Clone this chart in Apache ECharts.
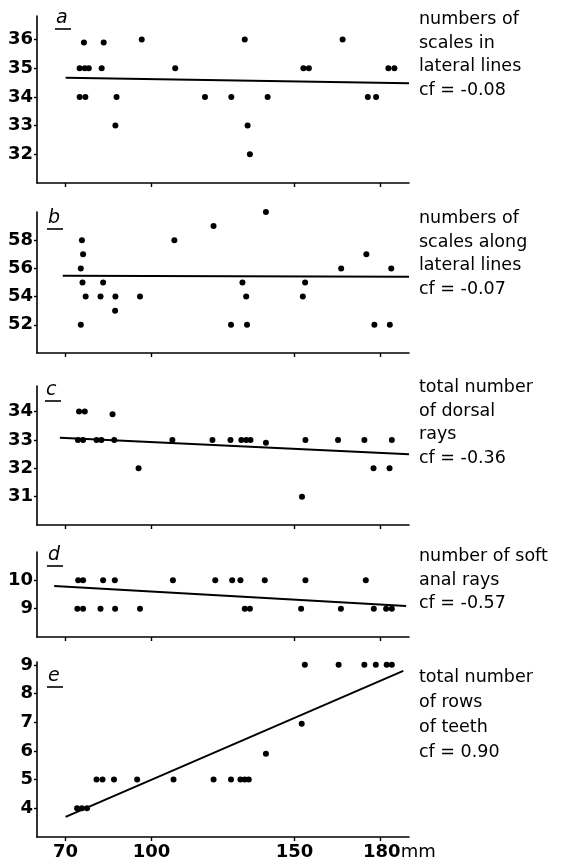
<!DOCTYPE html>
<html>
<head>
<meta charset="utf-8">
<script src="https://cdn.jsdelivr.net/npm/echarts@6/dist/echarts.min.js"></script>
<style>
html, body { margin: 0; padding: 0; background: #fff; }
#main { width: 562px; height: 864px; }
</style>
</head>
<body>
<div id="main"></div>
<script>
// body length in mm (x) against meristic counts, five panels a-e
var xTicks = [70, 100, 150, 180];

var aX = [76.4, 74.9, 76.7, 78.1, 74.9, 76.9, 83.3, 82.6, 87.8, 87.4, 96.6, 108.3, 118.7, 127.9, 132.6, 133.6, 134.4, 140.6, 153.1, 155.0, 166.8, 175.6, 178.5, 182.8, 184.9];
var aY = [35.9, 35, 35, 35, 34, 34, 35.9, 35, 34, 33, 36, 35, 34, 34, 36, 33, 32, 34, 35, 35, 36, 34, 34, 35, 35];
var aLineX = [70, 190];
var aLineY = [34.67, 34.48];

var bX = [75.7, 76.1, 75.3, 75.9, 77.0, 75.3, 83.1, 82.2, 87.4, 87.3, 96.0, 108.0, 121.7, 127.8, 131.8, 133.1, 133.4, 140.0, 153.7, 152.9, 166.3, 175.1, 183.8, 177.9, 183.3];
var bY = [58, 57, 56, 55, 54, 52, 55, 54, 54, 53, 54, 58, 59, 52, 55, 54, 52, 60, 55, 54, 56, 57, 56, 52, 52];
var bLineX = [69, 190];
var bLineY = [55.47, 55.4];

var cX = [74.7, 76.7, 74.3, 76.1, 80.8, 82.5, 86.4, 87.0, 95.5, 107.3, 121.3, 127.6, 131.4, 133.1, 134.6, 140.0, 153.8, 165.2, 174.4, 184.0, 177.6, 183.2, 152.6];
var cY = [34, 34, 33, 33, 33, 33, 33.9, 33, 32, 33, 33, 33, 33, 33, 33, 32.9, 33, 33, 33, 33, 32, 32, 31];
var cLineX = [68, 190];
var cLineY = [33.08, 32.49];

var dX = [74.4, 76.1, 83.1, 87.2, 107.5, 122.3, 128.2, 131.1, 139.6, 153.8, 174.9, 74.1, 76.1, 82.2, 87.3, 96.0, 132.6, 134.4, 152.3, 166.2, 177.7, 182.0, 184.0];
var dY = [10, 10, 10, 10, 10, 10, 10, 10, 10, 10, 10, 9, 9, 9, 9, 9, 9, 9, 9, 9, 9, 9, 9];
var dLineX = [66, 189];
var dLineY = [9.8, 9.09];

var eX = [74.0, 75.7, 77.5, 80.8, 82.9, 86.9, 95.0, 107.7, 121.7, 127.8, 131.1, 132.6, 134.0, 140.0, 152.5, 153.6, 165.4, 174.4, 178.4, 182.2, 184.0];
var eY = [4, 4, 4, 5, 5, 5, 5, 5, 5, 5, 5, 5, 5, 5.9, 6.95, 9, 9, 9, 9, 9, 9];
var eLineX = [70, 188];
var eLineY = [3.70, 8.79];

var panelLetters = ['a', 'b', 'c', 'd', 'e'];
var panelTexts = [
    'numbers of\nscales in\nlateral lines\ncf = -0.08',
    'numbers of\nscales along\nlateral lines\ncf = -0.07',
    'total number\nof dorsal\nrays\ncf = -0.36',
    'number of soft\nanal rays\ncf = -0.57',
    'total number\nof rows\nof teeth\ncf = 0.90'
];
var yRanges = [[31, 36.82], [50, 60], [30, 34.9], [8, 11], [3, 9.1]];
var yTicks = [[32, 33, 34, 35, 36], [52, 54, 56, 58], [31, 32, 33, 34], [9, 10], [4, 5, 6, 7, 8, 9]];

var FONT = 'DejaVu Sans';
var gridTops = [16, 212, 386, 552, 662];
var gridHeights = [167, 141, 139, 85, 175];
var textTops = [3, 202, 371, 540, 660];
var textLineH = [23.5, 23.5, 23.5, 23.5, 25];
var letterY = [20, 220, 392, 557, 678];
var letterX = [56, 48, 46, 48, 48];

function pairs(xs, ys) {
    var out = [];
    for (var i = 0; i < xs.length; i++) out.push([xs[i], ys[i]]);
    return out;
}
var pts = [pairs(aX, aY), pairs(bX, bY), pairs(cX, cY), pairs(dX, dY), pairs(eX, eY)];
var lines = [pairs(aLineX, aLineY), pairs(bLineX, bLineY), pairs(cLineX, cLineY), pairs(dLineX, dLineY), pairs(eLineX, eLineY)];

var grids = [], xAxes = [], yAxes = [], series = [], titles = [], graphics = [];
for (var i = 0; i < 5; i++) {
    grids.push({ left: 37, width: 372, top: gridTops[i], height: gridHeights[i] });
    xAxes.push({
        type: 'value', gridIndex: i, min: 60, max: 190,
        axisLine: { lineStyle: { color: '#000', width: 1.6 } },
        axisTick: { show: true, customValues: xTicks, length: 4, lineStyle: { color: '#000', width: 1.4 } },
        axisLabel: {
            show: i === 4, customValues: xTicks, color: '#000', fontFamily: FONT, fontSize: 18, fontWeight: 'bold', margin: 6,
            formatter: function (v) { return v === 180 ? '{s|}180{u|mm}' : String(v); },
            rich: { s: { width: 38 }, u: { fontFamily: FONT, fontSize: 18, fontWeight: 'normal', color: '#000' } }
        },
        splitLine: { show: false }
    });
    yAxes.push({
        type: 'value', gridIndex: i, min: yRanges[i][0], max: yRanges[i][1],
        axisLine: { show: true, lineStyle: { color: '#000', width: 1.6 } },
        axisTick: { show: true, customValues: yTicks[i], length: 3, lineStyle: { color: '#000', width: 1.4 } },
        axisLabel: { customValues: yTicks[i], color: '#000', fontFamily: FONT, fontSize: 18, fontWeight: 'bold', margin: 4 },
        splitLine: { show: false }
    });
    series.push({
        type: 'scatter', xAxisIndex: i, yAxisIndex: i, data: pts[i],
        symbol: 'circle', symbolSize: 6, itemStyle: { color: '#000', opacity: 1 }, silent: true
    });
    series.push({
        type: 'line', xAxisIndex: i, yAxisIndex: i, data: lines[i],
        symbol: 'none', lineStyle: { color: '#000', width: 2 }, silent: true
    });
    titles.push({
        text: panelTexts[i], left: 414, top: textTops[i],
        textStyle: { color: '#000', fontFamily: FONT, fontSize: 17.5, fontWeight: 'normal', lineHeight: textLineH[i] }
    });
    graphics.push({
        type: 'text', left: letterX[i], top: letterY[i] - 11,
        style: { text: panelLetters[i], fill: '#000', font: 'italic 19px "DejaVu Sans"' }
    });
    graphics.push({
        type: 'line', shape: { x1: letterX[i] - 1, y1: letterY[i] + 9, x2: letterX[i] + 15, y2: letterY[i] + 9 },
        style: { stroke: '#000', lineWidth: 1.6 }
    });
}

var chart = echarts.init(document.getElementById('main'));
chart.setOption({
    backgroundColor: '#fff',
    animation: false,
    title: titles,
    grid: grids,
    xAxis: xAxes,
    yAxis: yAxes,
    series: series,
    graphic: graphics
});
</script>
</body>
</html>
